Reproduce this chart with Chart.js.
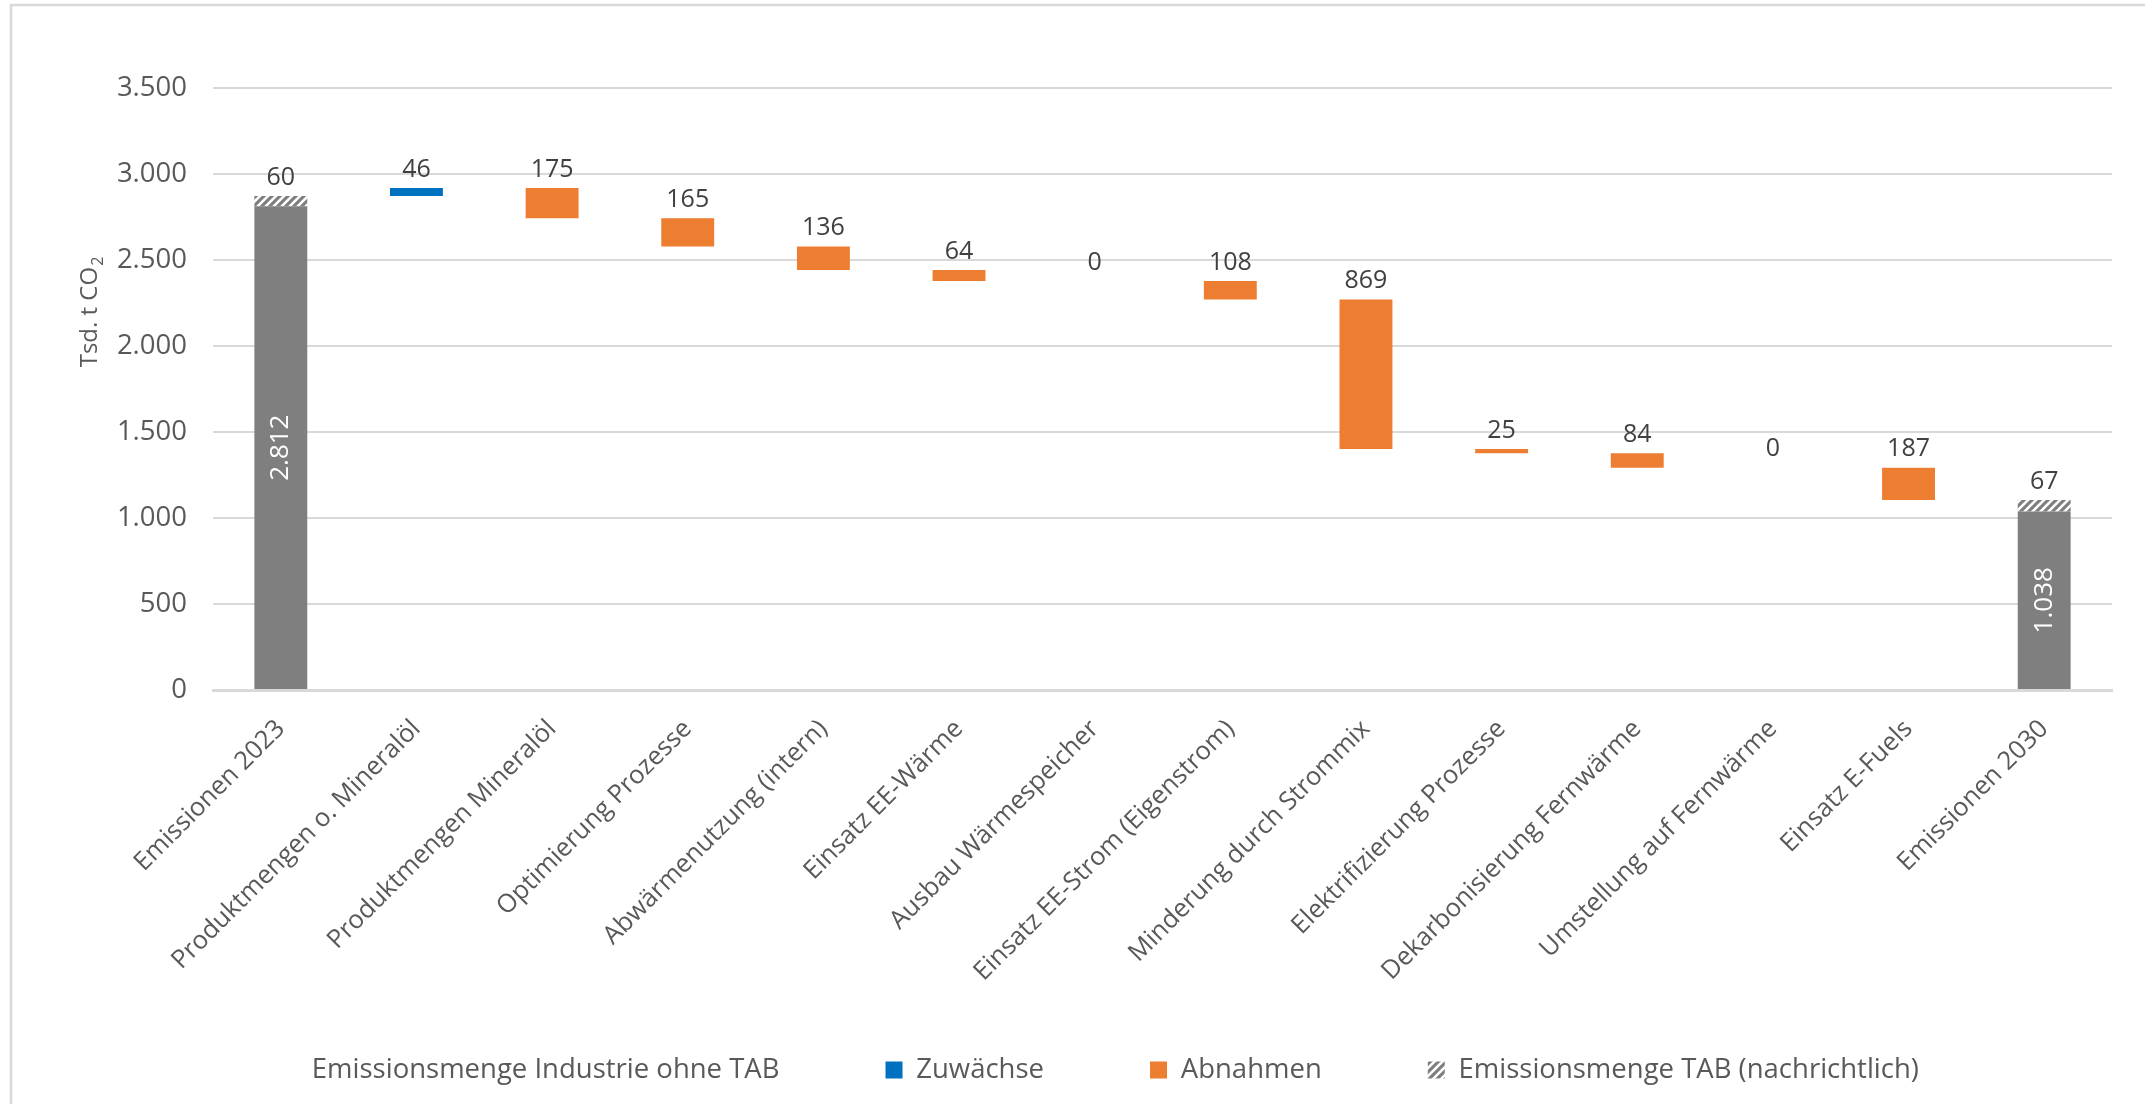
<!DOCTYPE html>
<html lang="de">
<head>
<meta charset="utf-8">
<title>Emissionen Industrie 2023–2030</title>
<script src="https://cdn.jsdelivr.net/npm/chart.js@4.4.1/dist/chart.umd.min.js"></script>
<style>
  html, body { margin: 0; padding: 0; background: #ffffff; }
  #wrap { position: relative; width: 2145px; height: 1104px; }
  canvas { display: block; }
</style>
</head>
<body>
<div id="wrap"><canvas id="chart" width="2145" height="1104"></canvas></div>
<script>
// ---- Daten (Tsd. t CO2) ----
const categories = [
  'Emissionen 2023',
  'Produktmengen o. Mineralöl',
  'Produktmengen Mineralöl',
  'Optimierung Prozesse',
  'Abwärmenutzung (intern)',
  'Einsatz EE-Wärme',
  'Ausbau Wärmespeicher',
  'Einsatz EE-Strom (Eigenstrom)',
  'Minderung durch Strommix',
  'Elektrifizierung Prozesse',
  'Dekarbonisierung Fernwärme',
  'Umstellung auf Fernwärme',
  'Einsatz E-Fuels',
  'Emissionen 2030'
];

// Emissionsmenge Industrie ohne TAB (Anfangs- und Endwert)
const industryTotals = [2812, null, null, null, null, null, null, null, null, null, null, null, null, 1038];

// Emissionsmenge TAB (nachrichtlich), oben auf den Gesamtsäulen
const tabTotals = [60, null, null, null, null, null, null, null, null, null, null, null, null, 67];

// Veränderungen je Maßnahme (positiv = Zuwachs, negativ/0 = Abnahme)
const changes = [null, 46, -175, -165, -136, -64, 0, -108, -869, -25, -84, 0, -187, null];

const yTickValues = [0, 500, 1000, 1500, 2000, 2500, 3000, 3500];

const seriesNames = [
  'Emissionsmenge Industrie ohne TAB',
  'Zuwächse',
  'Abnahmen',
  'Emissionsmenge TAB (nachrichtlich)'
];

// ---- Farben / Schrift ----
const COLOR_GRAY = '#7F7F7F';
const COLOR_BLUE = '#0070C0';
const COLOR_ORANGE = '#ED7D31';
const COLOR_TEXT = '#595959';
const COLOR_GRID = '#D9D9D9';
const FONT = '"Open Sans", "Segoe UI", "DejaVu Sans", sans-serif';
const LEGEND_SIZE = 27.5;

function formatDe(n) {
  return String(Math.round(n)).replace(/\B(?=(\d{3})+(?!\d))/g, '.');
}

// Schraffur (breite Diagonale) für TAB-Anteil
function makeHatch() {
  const s = 8;
  const c = document.createElement('canvas');
  c.width = s; c.height = s;
  const g = c.getContext('2d');
  g.fillStyle = COLOR_GRAY;
  g.fillRect(0, 0, s, s);
  g.strokeStyle = '#FFFFFF';
  g.lineWidth = 2.6;
  g.beginPath();
  g.moveTo(-1, s + 1); g.lineTo(s + 1, -1);
  g.moveTo(-s / 2 - 1, s / 2 + 1); g.lineTo(s / 2 + 1, -s / 2 - 1);
  g.moveTo(s / 2 - 1, s * 1.5 + 1); g.lineTo(s * 1.5 + 1, s / 2 - 1);
  g.stroke();
  return g.createPattern(c, 'repeat');
}

// ---- Wasserfall aus den Daten aufbauen ----
const grayBars = industryTotals.slice();
const tabBars = industryTotals.map((v, i) => v == null ? null : [v, v + tabTotals[i]]);
const riseBars = [];
const fallBars = [];
const riseText = [];
const fallText = [];
let level = industryTotals[0] + tabTotals[0];
changes.forEach((d) => {
  if (d == null) {
    riseBars.push(null); fallBars.push(null);
    riseText.push(null); fallText.push(null);
    return;
  }
  const next = level + d;
  if (d > 0) {
    riseBars.push([level, next]); riseText.push(d);
    fallBars.push(null); fallText.push(null);
  } else {
    fallBars.push([next, level]); fallText.push(-d);
    riseBars.push(null); riseText.push(null);
  }
  level = next;
});

// ---- Plugins ----
const chartFrame = {
  id: 'chartFrame',
  beforeDraw(chart) {
    const ctx = chart.ctx;
    ctx.save();
    ctx.fillStyle = '#FFFFFF';
    ctx.fillRect(0, 0, chart.width, chart.height);
    ctx.strokeStyle = COLOR_GRID;
    ctx.lineWidth = 2.5;
    ctx.beginPath();
    ctx.moveTo(11, chart.height);
    ctx.lineTo(11, 5);
    ctx.lineTo(chart.width, 5);
    ctx.stroke();
    ctx.restore();
  }
};

const axisTitle = {
  id: 'axisTitle',
  afterDraw(chart) {
    const ctx = chart.ctx;
    const main = 'Tsd. t CO';
    const sub = '2';
    ctx.save();
    ctx.fillStyle = COLOR_TEXT;
    ctx.font = '24px ' + FONT;
    const wMain = ctx.measureText(main).width;
    ctx.font = '16px ' + FONT;
    const wSub = ctx.measureText(sub).width;
    const total = wMain + wSub + 1;
    ctx.translate(89, 312);
    ctx.rotate(-Math.PI / 2);
    ctx.textBaseline = 'alphabetic';
    ctx.textAlign = 'left';
    ctx.font = '24px ' + FONT;
    ctx.fillText(main, -total / 2, 8);
    ctx.font = '16px ' + FONT;
    ctx.fillText(sub, -total / 2 + wMain + 1, 14);
    ctx.restore();
  }
};

const valueLabels = {
  id: 'valueLabels',
  afterDatasetsDraw(chart) {
    const ctx = chart.ctx;
    ctx.save();
    chart.data.datasets.forEach((ds, di) => {
      const meta = chart.getDatasetMeta(di);
      if (meta.hidden) return;
      meta.data.forEach((bar, i) => {
        const v = ds.valueText[i];
        if (v == null) return;
        const top = Math.min(bar.y, bar.base);
        const bottom = Math.max(bar.y, bar.base);
        if (ds.labelInside) {
          ctx.save();
          ctx.translate(bar.x, (top + bottom) / 2);
          ctx.rotate(-Math.PI / 2);
          ctx.fillStyle = '#FFFFFF';
          ctx.font = '26px ' + FONT;
          ctx.textAlign = 'center';
          ctx.textBaseline = 'middle';
          ctx.fillText(formatDe(v), 0, 0);
          ctx.restore();
        } else {
          ctx.fillStyle = '#404040';
          ctx.font = '25px ' + FONT;
          ctx.textAlign = 'center';
          ctx.textBaseline = 'bottom';
          ctx.fillText(formatDe(v), bar.x, top - 6);
        }
      });
    });
    ctx.restore();
  }
};

// Legendenzeile: etwas nach rechts und in die unterste Zeile setzen
const legendPlace = {
  id: 'legendPlace',
  afterLayout(chart) {
    const lg = chart.legend;
    if (!lg) return;
    const pad = lg.options.labels.padding;
    const rowCenter = chart.height - 34;
    lg.top = rowCenter - pad - LEGEND_SIZE / 2;
    lg.bottom = chart.height;
    lg.height = lg.bottom - lg.top;
    lg.left += 44;
    lg.right += 44;
  }
};

function build() {
  const hatch = makeHatch();
  const ctx = document.getElementById('chart').getContext('2d');
  new Chart(ctx, {
    type: 'bar',
    data: {
      labels: categories,
      datasets: [
        {
          label: seriesNames[0],
          data: grayBars,
          valueText: industryTotals,
          labelInside: true,
          backgroundColor: COLOR_GRAY,
          grouped: false,
          categoryPercentage: 1,
          barPercentage: 0.39
        },
        {
          label: seriesNames[1],
          data: riseBars,
          valueText: riseText,
          backgroundColor: COLOR_BLUE,
          grouped: false,
          categoryPercentage: 1,
          barPercentage: 0.39
        },
        {
          label: seriesNames[2],
          data: fallBars,
          valueText: fallText,
          backgroundColor: COLOR_ORANGE,
          grouped: false,
          categoryPercentage: 1,
          barPercentage: 0.39
        },
        {
          label: seriesNames[3],
          data: tabBars,
          valueText: tabTotals,
          backgroundColor: hatch,
          grouped: false,
          categoryPercentage: 1,
          barPercentage: 0.39
        }
      ]
    },
    options: {
      responsive: false,
      animation: false,
      devicePixelRatio: 1,
      layout: { padding: { top: 88, right: 33, left: 0, bottom: 7 } },
      plugins: {
        tooltip: { enabled: false },
        legend: {
          position: 'bottom',
          maxHeight: 102,
          labels: {
            font: { family: FONT, size: LEGEND_SIZE },
            color: COLOR_TEXT,
            boxWidth: 17,
            boxHeight: 17,
            padding: 106,
            generateLabels(chart) {
              const items = Chart.defaults.plugins.legend.labels.generateLabels(chart);
              items.forEach((it, i) => {
                it.lineWidth = 0;
                it.strokeStyle = 'rgba(0,0,0,0)';
                if (i === 0) it.fillStyle = 'rgba(0,0,0,0)';
              });
              return items;
            }
          }
        }
      },
      scales: {
        x: {
          grid: { display: false, drawTicks: false },
          border: { display: true, color: COLOR_GRID, width: 3 },
          ticks: {
            font: { family: FONT, size: 25.5 },
            color: COLOR_TEXT,
            minRotation: 45,
            maxRotation: 45,
            autoSkip: false,
            padding: 24
          },
          afterFit(scale) { scale.height = 305; }
        },
        y: {
          min: 0,
          max: 3500,
          afterBuildTicks(scale) {
            scale.ticks = yTickValues.map(v => ({ value: v }));
          },
          grid: { color: COLOR_GRID, lineWidth: 2, drawTicks: false },
          border: { display: false },
          ticks: {
            font: { family: FONT, size: 27.5 },
            color: COLOR_TEXT,
            padding: 26,
            callback: (v) => formatDe(v)
          },
          afterFit(scale) { scale.width = 213; }
        }
      }
    },
    plugins: [chartFrame, valueLabels, axisTitle, legendPlace]
  });
}

if (document.fonts && document.fonts.load) {
  document.fonts.load('25px "Open Sans"').then(build, build);
} else {
  build();
}
</script>
</body>
</html>
